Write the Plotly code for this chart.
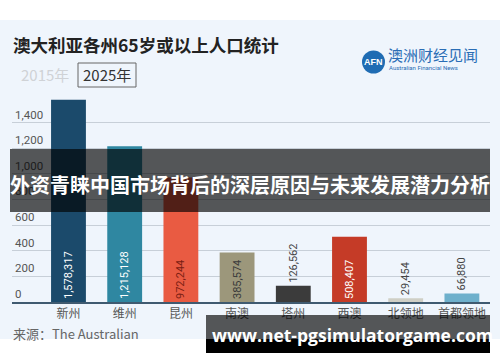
import plotly.graph_objects as go

# ---- data ----
states = ["新州", "维州", "昆州", "南澳", "塔州", "西澳", "北领地", "首都领地"]
population = [1578317, 1215128, 972244, 385574, 126562, 508407, 29454, 66880]
bar_colors = ["#1b4a6b", "#2f87a1", "#e95b42", "#9c977b", "#3b3b3b", "#c53b27", "#cfcfc6", "#6eb0cc"]
label_colors = ["#ffffff", "#ffffff", "#7a1d12", "#3a3a3a", "#444444", "#ffffff", "#444444", "#444444"]
label_pos = ["inside", "inside", "inside", "inside", "outside", "inside", "outside", "outside"]
y_ticks = [0, 200, 400, 600, 800, 1000, 1200, 1400]
y_ticktext = ["0", "200", "400", "600", "800", "1,000", "1,200", "1,400"]

FONT = "Noto Sans CJK SC, Noto Sans, sans-serif"

# plot area in pixels
X0, X1, YB, YT = 12, 490, 302, 97


def xp(px):
    return (px - X0) / (X1 - X0)


def yp(py):
    return (YB - py) / (YB - YT)


values_k = [p / 1000 for p in population]
texts = [f"{p:,}" for p in population]

fig = go.Figure()
fig.add_trace(go.Bar(
    x=states, y=values_k, marker=dict(color=bar_colors, line=dict(width=0)),
    width=0.62, text=texts, textposition=label_pos, insidetextanchor="start",
    textangle=-90, constraintext="none", cliponaxis=False,
    textfont=dict(size=11, color=label_colors, family="Roboto, Noto Sans, sans-serif"),
    outsidetextfont=dict(size=11, color="#444444", family="Roboto, Noto Sans, sans-serif"),
    hoverinfo="skip",
))

shapes = []
# light panel background
shapes.append(dict(type="rect", xref="paper", yref="paper", x0=xp(0), x1=xp(500), y0=yp(339), y1=yp(20),
                   fillcolor="#eff5fc", line=dict(width=0), layer="below"))
# 2025 box
shapes.append(dict(type="rect", xref="paper", yref="paper", x0=xp(78), x1=xp(136), y0=yp(87), y1=yp(63),
                   fillcolor="rgba(0,0,0,0)", line=dict(color="#666666", width=1), layer="above"))
# logo circle
shapes.append(dict(type="circle", xref="paper", yref="paper", x0=xp(362), x1=xp(385), y0=yp(73.5), y1=yp(50.5),
                   fillcolor="#1f6cb3", line=dict(width=0), layer="above"))
# dark banner across middle
shapes.append(dict(type="rect", xref="paper", yref="paper", x0=xp(10), x1=xp(490), y0=yp(212), y1=yp(149),
                   fillcolor="rgba(0,0,0,0.65)", line=dict(width=0), layer="above"))
# bottom watermark banner
shapes.append(dict(type="rect", xref="paper", yref="paper", x0=xp(206), x1=xp(490), y0=yp(339), y1=yp(315),
                   fillcolor="rgba(0,0,0,0.65)", line=dict(width=0), layer="above"))
shapes.append(dict(type="rect", xref="paper", yref="paper", x0=xp(206), x1=xp(490), y0=yp(353), y1=yp(339),
                   fillcolor="#000000", line=dict(width=0), layer="above"))

ann = []


def txt(text, x, y, size, color, xanchor="left", bold=False, family=FONT):
    ann.append(dict(text=f"<b>{text}</b>" if bold else text, xref="paper", yref="paper",
                    x=xp(x), y=yp(y), xanchor=xanchor, yanchor="middle", showarrow=False,
                    font=dict(size=size, color=color, family=family)))


txt("澳大利亚各州65岁或以上人口统计", 11, 44, 17.5, "#222222", bold=True)
txt("2015年", 19, 75, 15, "#cfd2d6")
txt("2025年", 107, 75, 15, "#333333", xanchor="center")
txt("AFN", 373.5, 62, 9, "#ffffff", xanchor="center", bold=True, family="Liberation Sans, sans-serif")
txt("澳洲财经见闻", 386, 54, 15, "#2a6db5")
txt("Australian Financial News", 387, 67.5, 6, "#2a6db5", family="Roboto, sans-serif")
txt("来源：The Australian", 11, 333, 13, "#666666")
txt("外资青睐中国市场背后的深层原因与未来发展潜力分析", 250, 184, 20, "#ffffff", xanchor="center", bold=True)
txt("www.net-pgsimulatorgame.com", 352, 335, 17.5, "#ffffff", xanchor="center", bold=True,
    family="Open Sans, DejaVu Sans, sans-serif")

fig.update_layout(
    width=500, height=362,
    margin=dict(l=X0, r=500 - X1, t=YT, b=362 - YB, pad=0, autoexpand=False),
    paper_bgcolor="#ffffff", plot_bgcolor="rgba(0,0,0,0)",
    showlegend=False, shapes=shapes, annotations=ann,
    font=dict(family=FONT),
    xaxis=dict(range=[-1.005, 7.5], showgrid=False, showline=True, linecolor="#3f5a70", linewidth=1.5,
               ticks="", tickfont=dict(size=12, color="#555555"), fixedrange=True, automargin=False),
    yaxis=dict(range=[0, 1600], tickvals=y_ticks, ticktext=y_ticktext, ticklabelposition="inside top",
               showgrid=True, gridcolor="#c7cfd8", gridwidth=1, zeroline=False, automargin=False,
               tickfont=dict(size=11.5, color="#555555", family="Roboto, Noto Sans, sans-serif"),
               fixedrange=True),
)

fig.write_html("out.html", config={"displayModeBar": False},
               post_script="document.body.style.margin='0';document.body.style.padding='0';")
